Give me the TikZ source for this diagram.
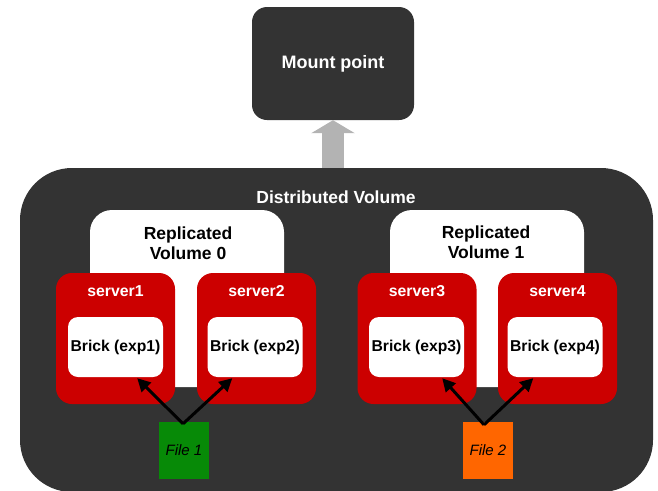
\documentclass[tikz,border=0pt]{standalone}
\usepackage{fontspec}
\setmainfont{Liberation Sans}
\usetikzlibrary{arrows.meta,calc}
\definecolor{dark}{HTML}{333333}
\definecolor{redbox}{HTML}{CC0000}
\definecolor{upgray}{HTML}{B3B3B3}
\definecolor{filegreen}{HTML}{078A07}
\definecolor{fileorange}{HTML}{FF6600}
\tikzset{
  darkbox/.style={fill=dark, draw=none, rectangle, inner sep=0pt},
  whitebox/.style={fill=white, draw=none, rectangle, inner sep=0pt},
  serverbox/.style={fill=redbox, draw=none, rectangle, rounded corners=16pt, minimum width=119pt, minimum height=131pt, inner sep=0pt},
  brickbox/.style={fill=white, draw=none, rectangle, rounded corners=10pt, minimum width=95pt, minimum height=60pt, inner sep=0pt, font=\fontsize{15.7}{18}\selectfont\bfseries},
  filebox/.style={draw=none, rectangle, minimum width=50pt, minimum height=57pt, inner sep=0pt, font=\fontsize{15}{17}\selectfont\itshape},
  wtext/.style={text=white, font=\fontsize{15.8}{18}\selectfont\bfseries, inner sep=0pt},
  btitle/.style={text=black, align=center, font=\fontsize{17.5}{20}\selectfont\bfseries, inner sep=0pt},
  fileline/.style={line width=3pt, -{Triangle[length=13pt,width=13pt]}},
}
\begin{document}
\begin{tikzpicture}[x=1pt,y=-1pt]
\useasboundingbox (0,0) rectangle (658,490);
% mount point
\node[darkbox, rounded corners=15pt, minimum width=162pt, minimum height=113pt, text=white, font=\fontsize{18}{20}\selectfont\bfseries] (mount) at (333,63.5) {\raisebox{-1.5pt}{Mount point}};
% distributed volume
\begin{scope}
\clip (0,0) rectangle (658,490);
\node[darkbox, rounded corners=52pt, minimum width=633pt, minimum height=324pt] (dv) at (336.5,330) {};
\end{scope}
\node[text=white, font=\fontsize{17.5}{20}\selectfont\bfseries, inner sep=0pt] (dvt) at (336,197.5) {Distributed Volume};
% up arrow
\draw[upgray, line width=22pt, -{Triangle[length=13pt,width=43pt]}] (mount.south |- dv.north) -- (mount.south);
% replicated volumes
\node[whitebox, rounded corners=22pt, minimum width=194pt, minimum height=177pt] (rv0) at (187,298.5) {};
\node[whitebox, rounded corners=22pt, minimum width=194pt, minimum height=177pt] (rv1) at (487,298.5) {};
\node[btitle] (rv0t) at (188,243) {Replicated\\Volume 0};
\node[btitle] (rv1t) at (486,242) {Replicated\\Volume 1};
% servers
\node[serverbox] (s1) at (115.5,338.5) {};
\node[serverbox] (s2) at (256.5,338.5) {};
\node[serverbox] (s3) at (417,338.5) {};
\node[serverbox] (s4) at (557.5,338.5) {};
\node[wtext] (s1t) at (115.5,291.5) {server1};
\node[wtext] (s2t) at (256.5,291.5) {server2};
\node[wtext] (s3t) at (417,291.5) {server3};
\node[wtext] (s4t) at (557.5,291.5) {server4};
% bricks
\node[brickbox] (b1) at (115.5,347) {\raisebox{-1.5pt}{Brick (exp1)}};
\node[brickbox] (b2) at (255,347) {\raisebox{-1.5pt}{Brick (exp2)}};
\node[brickbox] (b3) at (416.5,347) {\raisebox{-1.5pt}{Brick (exp3)}};
\node[brickbox] (b4) at (555,347) {\raisebox{-1.5pt}{Brick (exp4)}};
% files
\node[filebox, fill=filegreen] (f1) at (184,450.5) {File 1};
\node[filebox, fill=fileorange] (f2) at (488,450.5) {File 2};
% arrow targets
\coordinate (t1) at ($(b1.south east)+(-26,1)$);
\coordinate (t2) at ($(b2.south west)+(25,1)$);
\coordinate (t3) at ($(b3.south east)+(-22,1)$);
\coordinate (t4) at ($(b4.south west)+(26,1)$);
\coordinate (o1) at ($(f1.north)+(-1,2)$);
\coordinate (o2) at ($(f2.north)+(-4,3)$);
\draw[fileline] (o1) -- (t1);
\draw[fileline] (o1) -- (t2);
\draw[fileline] (o2) -- (t3);
\draw[fileline] (o2) -- (t4);
\end{tikzpicture}
\end{document}
